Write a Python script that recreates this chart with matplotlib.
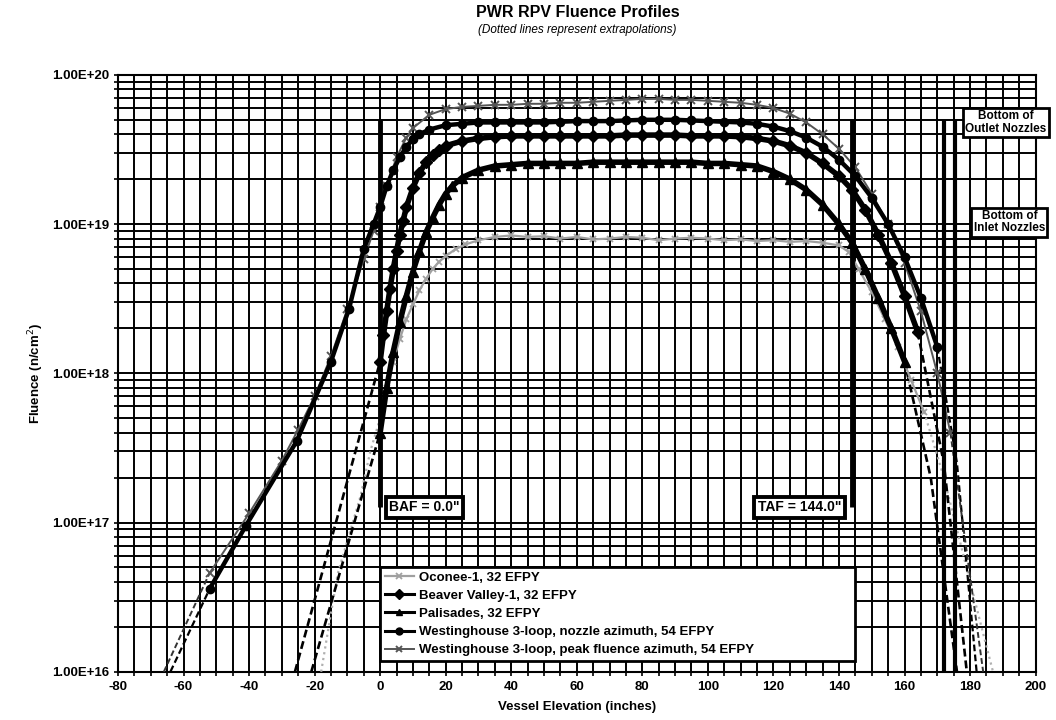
import matplotlib
matplotlib.use("Agg")
import matplotlib.pyplot as plt
from matplotlib.ticker import FixedLocator, MultipleLocator, LogLocator, NullFormatter

plt.rcParams['font.family'] = ['Liberation Sans', 'DejaVu Sans']
plt.rcParams['axes.unicode_minus'] = False

# ---------------- data ----------------
# Oconee-1, 32 EFPY
oc_ext_l_x = [-18, -13, -6, -3, 0, 2]
oc_ext_l_y = [1e16, 4.5e16, 1.5e17, 3e17, 5e17, 8e17]
oc_x = [2, 4, 6, 8, 10, 12, 14, 16, 18, 20, 23, 26, 30, 35, 40, 45, 50, 55, 60, 65, 70, 75, 80, 85, 90, 95,
        100, 105, 110, 115, 120, 125, 130, 135, 140, 143, 146, 150, 154, 158, 162, 166]
oc_y = [8e17, 1.2e18, 1.7e18, 2.3e18, 2.9e18, 3.6e18, 4.3e18, 5e18, 5.6e18, 6.1e18, 6.8e18, 7.3e18, 7.8e18,
        8.2e18, 8.4e18, 8.2e18, 8.3e18, 8.0e18, 8.2e18, 7.9e18, 8e18, 8.2e18, 8.1e18, 7.8e18, 8e18, 8.1e18,
        8e18, 7.8e18, 7.9e18, 7.7e18, 7.8e18, 7.6e18, 7.7e18, 7.5e18, 7.2e18, 6.5e18, 5e18, 3.5e18, 2.3e18,
        1.5e18, 9e17, 5.5e17]
oc_ext_r_x = [166, 172, 178, 184, 187]
oc_ext_r_y = [5.5e17, 2e17, 6e16, 1.8e16, 1e16]

# Beaver Valley-1, 32 EFPY
bv_ext_l_x = [-26, 0]
bv_ext_l_y = [1e16, 1.2e18]
bv_x = [0, 1, 2, 3, 4, 5, 6, 7, 8, 10, 12, 14, 16, 18, 20, 25, 30, 35, 40, 45, 50, 55, 60, 65, 70, 75, 80,
        85, 90, 95, 100, 105, 110, 115, 120, 125, 130, 135, 140, 144, 148, 152, 156, 160, 164]
bv_y = [1.2e18, 1.8e18, 2.6e18, 3.7e18, 5e18, 6.6e18, 8.5e18, 1.05e19, 1.3e19, 1.75e19, 2.2e19, 2.6e19,
        2.9e19, 3.15e19, 3.35e19, 3.6e19, 3.75e19, 3.85e19, 3.9e19, 3.9e19, 3.9e19, 3.9e19, 3.9e19, 3.9e19,
        3.9e19, 3.95e19, 3.95e19, 3.95e19, 3.95e19, 3.9e19, 3.9e19, 3.9e19, 3.85e19, 3.75e19, 3.6e19,
        3.35e19, 3.0e19, 2.55e19, 2.1e19, 1.7e19, 1.25e19, 8.5e18, 5.5e18, 3.3e18, 1.9e18]
bv_ext_r_x = [164, 172, 179]
bv_ext_r_y = [1.9e18, 2.5e17, 1e16]

# Palisades, 32 EFPY
pa_ext_l_x = [-21, 0]
pa_ext_l_y = [1e16, 4e17]
pa_x = [0, 2, 4, 6, 8, 10, 12, 14, 16, 18, 20, 22, 25, 30, 35, 40, 45, 50, 55, 60, 65, 70, 75, 80, 85, 90,
        95, 100, 105, 110, 115, 120, 125, 130, 135, 140, 144, 148, 152, 156, 160]
pa_y = [4e17, 8e17, 1.4e18, 2.2e18, 3.3e18, 4.8e18, 6.6e18, 8.8e18, 1.1e19, 1.35e19, 1.6e19, 1.8e19, 2.05e19,
        2.3e19, 2.45e19, 2.5e19, 2.55e19, 2.55e19, 2.55e19, 2.55e19, 2.6e19, 2.6e19, 2.6e19, 2.6e19, 2.6e19,
        2.6e19, 2.6e19, 2.55e19, 2.55e19, 2.5e19, 2.45e19, 2.25e19, 2.0e19, 1.7e19, 1.35e19, 1.0e19,
        7.5e18, 5e18, 3.2e18, 2e18, 1.2e18]
pa_ext_r_x = [160, 168, 176]
pa_ext_r_y = [1.2e18, 2e17, 1e16]

# Westinghouse 3-loop, nozzle azimuth, 54 EFPY
wn_ext_l_x = [-64, -52]
wn_ext_l_y = [1e16, 3.6e16]
wn_x = [-52, -41, -25.5, -15, -9.5, -5, -2, 0, 2, 4, 6, 8, 10, 12, 15, 20, 25, 30, 35, 40, 45, 50, 55, 60,
        65, 70, 75, 80, 85, 90, 95, 100, 105, 110, 115, 120, 125, 130, 135, 140, 145, 150, 155, 160, 165, 170]
wn_y = [3.6e16, 9.5e16, 3.5e17, 1.2e18, 2.7e18, 6.8e18, 1e19, 1.3e19, 1.8e19, 2.3e19, 2.8e19, 3.3e19, 3.7e19,
        4e19, 4.3e19, 4.6e19, 4.7e19, 4.8e19, 4.8e19, 4.8e19, 4.8e19, 4.8e19, 4.85e19, 4.9e19, 4.9e19,
        4.9e19, 4.95e19, 5e19, 5e19, 5e19, 4.95e19, 4.9e19, 4.85e19, 4.8e19, 4.7e19, 4.5e19, 4.2e19,
        3.8e19, 3.3e19, 2.7e19, 2.1e19, 1.5e19, 1e19, 6e18, 3.2e18, 1.5e18]
wn_ext_r_x = [170, 176, 182]
wn_ext_r_y = [1.5e18, 2.5e17, 1e16]

# Westinghouse 3-loop, peak fluence azimuth, 54 EFPY
wp_ext_l_x = [-66, -52]
wp_ext_l_y = [1e16, 4.6e16]
wp_x = [-52, -40, -30, -25, -20, -15, -10, -5, -2, 0, 2, 5, 8, 10, 15, 20, 25, 30, 35, 40, 45, 50, 55, 60,
        65, 70, 75, 80, 85, 90, 95, 100, 105, 110, 115, 120, 125, 130, 135, 140, 145, 150, 155, 160, 165,
        170, 174]
wp_y = [4.6e16, 1.15e17, 2.6e17, 4.2e17, 7e17, 1.3e18, 2.7e18, 5.8e18, 9e18, 1.3e19, 1.8e19, 2.8e19, 3.8e19,
        4.4e19, 5.4e19, 5.9e19, 6.1e19, 6.2e19, 6.3e19, 6.3e19, 6.4e19, 6.4e19, 6.5e19, 6.5e19, 6.6e19,
        6.7e19, 6.8e19, 6.9e19, 6.9e19, 6.8e19, 6.8e19, 6.7e19, 6.6e19, 6.5e19, 6.3e19, 6.0e19, 5.5e19,
        4.8e19, 4.0e19, 3.2e19, 2.4e19, 1.6e19, 1e19, 5.5e18, 2.6e18, 1e18, 4e17]
wp_ext_r_x = [174, 184]
wp_ext_r_y = [4e17, 1e16]

legend_labels = ["Oconee-1, 32 EFPY", "Beaver Valley-1, 32 EFPY", "Palisades, 32 EFPY",
                 "Westinghouse 3-loop, nozzle azimuth, 54 EFPY",
                 "Westinghouse 3-loop, peak fluence azimuth, 54 EFPY"]

x_ticks = [-80, -60, -40, -20, 0, 20, 40, 60, 80, 100, 120, 140, 160, 180, 200]
y_ticks = [1e16, 1e17, 1e18, 1e19, 1e20]
y_tick_labels = ["1.00E+16", "1.00E+17", "1.00E+18", "1.00E+19", "1.00E+20"]

core_lines_x = [0, 144]
nozzle_lines_x = [172, 175.5]

# ---------------- figure ----------------
fig = plt.figure(figsize=(10.56, 7.2), dpi=100)
ax = fig.add_axes([0.1117, 0.067, 0.869, 0.829])
ax.set_yscale('log')
ax.set_xlim(-80, 200)
ax.set_ylim(1e16, 1e20)

# grid
ax.xaxis.set_major_locator(FixedLocator(x_ticks))
ax.xaxis.set_minor_locator(MultipleLocator(5))
ax.yaxis.set_major_locator(FixedLocator(y_ticks))
ax.yaxis.set_minor_locator(LogLocator(base=10, subs=range(2, 10)))
ax.yaxis.set_minor_formatter(NullFormatter())
ax.set_yticklabels(y_tick_labels)
ax.grid(True, which='both', color='black', lw=1.4)
ax.set_axisbelow(True)
ax.tick_params(which='both', length=3, width=1.2, direction='out', color='black')
ax.tick_params(labelsize=9.5)
for lbl in ax.get_xticklabels() + ax.get_yticklabels():
    lbl.set_fontweight('bold')
for s in ax.spines.values():
    s.set_linewidth(1.5)

# series
kw_dash = dict(ls=(0, (3, 1.5)), zorder=3)
# Oconee
ax.plot(oc_ext_l_x, oc_ext_l_y, color='#b0b0b0', lw=1.6, ls=':', zorder=3)
ax.plot(oc_ext_r_x, oc_ext_r_y, color='#b0b0b0', lw=1.6, ls=':', zorder=3)
l_oc, = ax.plot(oc_x, oc_y, color='#a0a0a0', lw=1.6, marker='x', ms=5, mew=1.3, zorder=4,
                label=legend_labels[0])
# Beaver Valley
ax.plot(bv_ext_l_x, bv_ext_l_y, color='black', lw=1.9, **kw_dash)
ax.plot(bv_ext_r_x, bv_ext_r_y, color='black', lw=1.9, **kw_dash)
l_bv, = ax.plot(bv_x, bv_y, color='black', lw=4.0, marker='D', ms=6, zorder=5, label=legend_labels[1])
# Palisades
ax.plot(pa_ext_l_x, pa_ext_l_y, color='black', lw=1.9, **kw_dash)
ax.plot(pa_ext_r_x, pa_ext_r_y, color='black', lw=1.9, **kw_dash)
l_pa, = ax.plot(pa_x, pa_y, color='black', lw=4.0, marker='^', ms=6.5, zorder=5, label=legend_labels[2])
# WH nozzle
ax.plot(wn_ext_l_x, wn_ext_l_y, color='black', lw=1.6, **kw_dash)
ax.plot(wn_ext_r_x, wn_ext_r_y, color='black', lw=1.6, **kw_dash)
l_wn, = ax.plot(wn_x, wn_y, color='black', lw=3.2, marker='o', ms=6, zorder=5, label=legend_labels[3])
# WH peak
ax.plot(wp_ext_l_x, wp_ext_l_y, color='#333333', lw=1.4, **kw_dash)
ax.plot(wp_ext_r_x, wp_ext_r_y, color='#333333', lw=1.4, **kw_dash)
l_wp, = ax.plot(wp_x, wp_y, color='#555555', lw=1.4, marker='x', ms=5.5, mew=1.4, zorder=4,
                label=legend_labels[4])

# vertical reference lines
ax.vlines(core_lines_x, 1.27e17, 5e19, color='black', lw=3.5, zorder=6)
ax.vlines(nozzle_lines_x, 1e16, 5e19, color='black', lw=3.0, zorder=6)

box = dict(boxstyle='square,pad=0.25', fc='white', ec='black', lw=2.8)
ax.text(13.5, 1.27e17, 'BAF = 0.0"', ha='center', va='center', fontsize=10, fontweight='bold',
        bbox=box, zorder=8)
ax.text(128, 1.27e17, 'TAF = 144.0"', ha='center', va='center', fontsize=10, fontweight='bold',
        bbox=box, zorder=8)
box2 = dict(boxstyle='square,pad=0.2', fc='white', ec='black', lw=2.0)
ax.text(191, 4.8e19, 'Bottom of\nOutlet Nozzles', ha='center', va='center', fontsize=8.5,
        fontweight='bold', bbox=box2, zorder=8, clip_on=False, linespacing=1.05)
ax.text(192, 1.03e19, 'Bottom of\nInlet Nozzles', ha='center', va='center', fontsize=8.5,
        fontweight='bold', bbox=box2, zorder=8, clip_on=False, linespacing=1.05)

leg = ax.legend(handles=[l_oc, l_bv, l_pa, l_wn, l_wp], loc='lower left',
                bbox_to_anchor=(0.2857, 0.018, 0.517, 0.18), mode='expand', borderaxespad=0,
                frameon=True, fancybox=False, edgecolor='black', framealpha=1, borderpad=0.35,
                labelspacing=0.45, handlelength=2.2, handletextpad=0.4,
                prop={'weight': 'bold', 'size': 9.5})
leg.get_frame().set_linewidth(2.0)
leg.set_zorder(9)
for h in leg.legend_handles:
    h.set_linewidth(min(h.get_linewidth(), 2.2))
    h.set_markersize(5)

ax.set_xlabel('Vessel Elevation (inches)', fontsize=9.5, fontweight='bold', labelpad=6)
ax.set_ylabel('Fluence (n/cm$^2$)', fontsize=9.5, fontweight='bold', labelpad=4)

fig.text(0.547, 0.983, 'PWR RPV Fluence Profiles', ha='center', va='center', fontsize=11.5,
         fontweight='bold')
fig.text(0.547, 0.958, '(Dotted lines represent extrapolations)', ha='center', va='center',
         fontsize=8.5, style='italic')

fig.savefig('out.png', dpi=100)
